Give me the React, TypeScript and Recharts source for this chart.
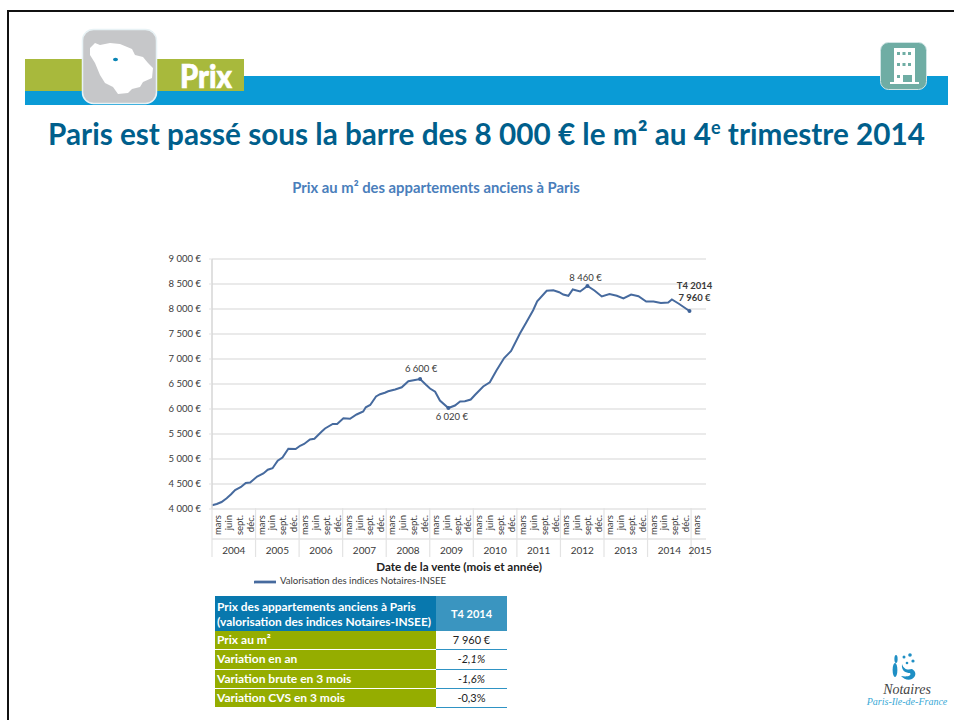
import React from 'react';
import { Label, Legend, Line, LineChart, CartesianGrid, XAxis, YAxis } from 'recharts';

const years = ['2004', '2005', '2006', '2007', '2008', '2009', '2010', '2011', '2012', '2013', '2014', '2015'];
const monthNames = ['mars', 'juin', 'sept.', 'déc.'];
const priceTicks = [4000, 4500, 5000, 5500, 6000, 6500, 7000, 7500, 8000, 8500, 9000];

const saleMonths = [
  0, 1.3, 2.6, 4, 5.2, 6.3, 7.9, 9.2, 10.4, 12.3, 14, 15.2, 16.5, 17.9, 19.2, 20.8, 22.8, 24, 25.1, 26.7, 27.9,
  29.9, 30.8, 32.9, 34.1, 35.8, 37.6, 39.4, 41.2, 41.9, 43.1, 44.7, 45.8, 47.1, 48, 49.9, 51.7, 53.5, 56.7,
  58.3, 59.4, 60.8, 62.1, 64.4, 66.2, 67.6, 68.9, 70.5, 71.7, 73.9, 75.7, 77.5, 79.6, 81.5, 83.9, 85.7, 87.5,
  88.6, 91.2, 93, 94.6, 95.7, 97.1, 98.3, 100.3, 102.3, 104.2, 106.2, 108.3, 110.3, 112.1, 114.2, 116.2,
  118.3, 120.3, 122.3, 124.3, 125.3, 127.1, 130.1,
];
const prices = [
  4075, 4100, 4140, 4215, 4295, 4380, 4440, 4520, 4530, 4650, 4710, 4785, 4815, 4965, 5030, 5205, 5200, 5265, 5300, 5390, 5405,
  5550, 5610, 5700, 5700, 5815, 5805, 5890, 5950, 6035, 6080, 6250, 6295, 6325, 6355, 6390, 6435, 6555, 6600,
  6485, 6410, 6345, 6170, 6020, 6070, 6150, 6155, 6190, 6285, 6450, 6535, 6770, 7020, 7160, 7510, 7740, 7975,
  8155, 8365, 8375, 8335, 8290, 8265, 8390, 8350, 8460, 8370, 8250, 8300, 8265, 8210, 8290, 8255,
  8150, 8150, 8120, 8130, 8190, 8110, 7960,
];

const tableHeader = ['Prix des appartements anciens à Paris', '(valorisation des indices Notaires-INSEE)'];
const tablePeriod = 'T4 2014';
const tableLabels = ['Prix au m²', 'Variation en an', 'Variation brute en 3 mois', 'Variation CVS en 3 mois'];
const tableValues = ['7 960 €', '-2,1%', '-1,6%', '-0,3%'];
const tableItalic = [false, true, true, false];

const FONT = 'Lato, "Open Sans", sans-serif';
const TEXT = '#3a3a3a';
const GRID = '#e3e3e3';

const quarters = years.flatMap((y) => (y === '2015' ? ['mars'] : monthNames).map((m) => ({ id: `${m} ${y}` })));
const curve = saleMonths.map((month, i) => ({ month, price: prices[i] }));

const formatEuro = (v: number) => `${String(v).replace(/\B(?=(\d{3})+$)/g, '\u00a0')}\u00a0€`;

const QuarterTick = ({ x, payload }: any) => {
  const [month, year] = String(payload.value).split(' ');
  const top = 508 - 250;
  return (
    <g>
      <text
        x={x}
        y={top + 7}
        transform={`rotate(-90 ${x} ${top + 7})`}
        textAnchor="end"
        dominantBaseline="central"
        fontSize={9.5}
        fill={TEXT}
      >
        {month}
      </text>
      {month === 'mars' && <line x1={x - 5.45} x2={x - 5.45} y1={top} y2={top + 49} stroke={GRID} strokeWidth={1.2} />}
      {month === 'juin' && (
        <text x={x + 5.45} y={top + 46} textAnchor="middle" fontSize={10} fill={TEXT}>
          {year}
        </text>
      )}
      {year === '2015' && (
        <text x={x + 3.5} y={top + 46} textAnchor="middle" fontSize={10} fill={TEXT}>
          {year}
        </text>
      )}
    </g>
  );
};

const renderDot = ({ cx, cy, index }: any) => {
  if (![38, 43, 65, 79].includes(index)) return <g key={index} />;
  return <circle key={index} cx={cx} cy={cy} r={2} fill="#3f6398" />;
};

const renderNote = ({ x, y, index, value }: any) => {
  const shared = { fontSize: 9.5, fill: TEXT, textAnchor: 'middle' as const };
  if (index === 38) {
    return (
      <text key={index} x={x + 1} y={y - 7} {...shared}>
        {formatEuro(value)}
      </text>
    );
  }
  if (index === 65) {
    return (
      <text key={index} x={x - 2} y={y - 5} {...shared}>
        {formatEuro(value)}
      </text>
    );
  }
  if (index === 43) {
    return (
      <text key={index} x={x + 3.5} y={y + 12} {...shared}>
        {formatEuro(value)}
      </text>
    );
  }
  if (index === 79) {
    return (
      <text key={index} x={x + 5} y={y - 10.5} {...shared} fontWeight={700}>
        {formatEuro(value)}
        <tspan x={x + 5} dy={-12}>
          T4 2014
        </tspan>
      </text>
    );
  }
  return <g key={index} />;
};

const Header = () => (
  <>
    <div style={{ position: 'absolute', left: 7, top: 10, width: 947, height: 2, background: '#111' }} />
    <div style={{ position: 'absolute', left: 7, top: 10, width: 2, height: 710, background: '#111' }} />
    <div style={{ position: 'absolute', left: 25, top: 76, width: 923, height: 29, background: '#0a9bd6' }} />
    <div style={{ position: 'absolute', left: 25, top: 59, width: 219, height: 32, background: '#a8b93c' }} />
    <div
      style={{
        position: 'absolute',
        left: 180,
        top: 57,
        color: '#fff',
        fontWeight: 900,
        fontSize: 33,
        lineHeight: '36px',
        WebkitTextStroke: '0.7px #fff',
        transform: 'scaleX(0.88)',
        transformOrigin: 'left center',
      }}
    >
      Prix
    </div>
    <svg style={{ position: 'absolute', left: 0, top: 0 }} width={954} height={120}>
      <rect x={82.5} y={29.5} width={74} height={74} rx={11} fill="#c6c7c9" stroke="#e8f2f5" strokeWidth={1.5} />
      <polygon
        points="95,43 100,45 110,43 120,44 132,49 135,55 143,57 148,63 153,68 152,78 143,82 140,87 132,89 128,93 118,94 113,87 105,83 100,75 95,63 90,55 90,48"
        fill="#fff"
      />
      <ellipse cx={115.5} cy={59.5} rx={2.5} ry={1.8} fill="#0a85b5" />
      <rect x={880.5} y={42.5} width={46} height={47} rx={8} fill="#6fada4" stroke="#cfe4e4" strokeWidth={1} />
      <rect x={894} y={48} width={21} height={36} fill="#fff" />
      <rect x={890} y={82} width={29} height={2} fill="#fff" />
      {[0, 1, 2].map((c) => (
        <g key={c} fill="#6fada4">
          <rect x={897 + c * 5.5} y={52} width={3} height={3} />
          <rect x={897 + c * 5.5} y={63} width={3} height={3} />
        </g>
      ))}
      <rect x={897} y={75} width={3} height={3} fill="#6fada4" />
      <rect x={903} y={75} width={9} height={7} fill="#6fada4" />
    </svg>
    <div
      style={{
        position: 'absolute',
        left: 0,
        width: 973,
        top: 117,
        textAlign: 'center',
        color: '#005f8c',
        fontWeight: 700,
        fontSize: 29.7,
        lineHeight: '34px',
        whiteSpace: 'nowrap',
      }}
    >
      Paris est passé sous la barre des 8 000 € le m² au 4<sup style={{ fontSize: 18, lineHeight: 0 }}>e</sup> trimestre 2014
    </div>
    <div
      style={{
        position: 'absolute',
        left: 236,
        width: 400,
        top: 179,
        textAlign: 'center',
        color: '#4a7ebb',
        fontWeight: 700,
        fontSize: 14.8,
        lineHeight: '16px',
        whiteSpace: 'nowrap',
      }}
    >
      Prix au m² des appartements anciens à Paris
    </div>
  </>
);

const SummaryTable = () => (
  <div style={{ position: 'absolute', left: 215, top: 596, width: 292 }}>
    <div style={{ display: 'flex', height: 35 }}>
      <div
        style={{
          width: 221,
          background: '#0878ae',
          color: '#fff',
          fontWeight: 700,
          fontSize: 11.9,
          lineHeight: '15px',
          padding: '3px 0 0 2px',
          boxSizing: 'border-box',
          whiteSpace: 'nowrap',
        }}
      >
        {tableHeader.map((line) => (
          <div key={line}>{line}</div>
        ))}
      </div>
      <div
        style={{
          width: 71,
          background: '#3a95c0',
          color: '#fff',
          fontWeight: 700,
          fontSize: 11,
          lineHeight: '35px',
          textAlign: 'center',
        }}
      >
        {tablePeriod}
      </div>
    </div>
    {tableLabels.map((label, i) => (
      <div key={label} style={{ display: 'flex', height: 19.3 }}>
        <div
          style={{
            width: 221,
            height: 18.3,
            background: '#95ad00',
            color: '#fff',
            fontWeight: 700,
            fontSize: 12,
            lineHeight: '18px',
            paddingLeft: 2,
            boxSizing: 'border-box',
          }}
        >
          {label}
        </div>
        <div
          style={{
            width: 71,
            height: 19.3,
            borderBottom: '1px solid #2f93c4',
            boxSizing: 'border-box',
            color: '#222',
            fontSize: 11,
            fontStyle: tableItalic[i] ? 'italic' : 'normal',
            lineHeight: '18px',
            textAlign: 'center',
          }}
        >
          {tableValues[i]}
        </div>
      </div>
    ))}
  </div>
);

const Logo = () => (
  <>
    <svg style={{ position: 'absolute', left: 890, top: 652 }} width={32} height={32}>
      <g fill="#1f8fc4">
        <ellipse cx={6} cy={7} rx={1.6} ry={4} />
        <ellipse cx={5} cy={18} rx={2.4} ry={7} />
        <circle cx={14} cy={5} r={1.5} />
        <circle cx={20} cy={3} r={1.8} />
        <circle cx={23} cy={9} r={1.6} />
        <circle cx={17} cy={11} r={1.3} />
        <path d="M12 12 C14 18 18 18 22 17 C26 19 27 24 22 27 C18 29 14 27 11 24 C17 25 22 24 20 21 C16 21 11 19 12 12 Z" />
      </g>
    </svg>
    <div
      style={{
        position: 'absolute',
        left: 854,
        width: 106,
        top: 683,
        textAlign: 'center',
        fontFamily: '"Liberation Serif", serif',
        fontStyle: 'italic',
        fontSize: 14,
        lineHeight: '13px',
        color: '#444',
      }}
    >
      Notaires
    </div>
    <div
      style={{
        position: 'absolute',
        left: 854,
        width: 106,
        top: 696,
        textAlign: 'center',
        fontFamily: '"Liberation Serif", serif',
        fontStyle: 'italic',
        fontSize: 10,
        lineHeight: '11px',
        color: '#39a9d6',
      }}
    >
      Paris-Ile-de-France
    </div>
  </>
);

export default function App() {
  return (
    <div
      style={{
        position: 'fixed',
        left: 0,
        top: 0,
        width: 954,
        height: 720,
        overflow: 'hidden',
        background: '#fff',
        fontFamily: FONT,
      }}
    >
      <Header />
      <div style={{ position: 'absolute', left: 160, top: 250 }}>
        <LineChart
          width={570}
          height={347}
          data={quarters}
          margin={{ top: 9, right: 24, bottom: 0, left: 0 }}
          style={{ fontFamily: FONT }}
        >
          <CartesianGrid xAxisId="quarter" yAxisId="price" vertical={false} stroke={GRID} strokeWidth={1.5} />
          <XAxis
            xAxisId="quarter"
            dataKey="id"
            scale="band"
            interval={0}
            padding={{ left: 0, right: 4 }}
            height={66}
            tickLine={false}
            tickSize={0}
            axisLine={{ stroke: GRID, strokeWidth: 1.5 }}
            tick={<QuarterTick />}
          >
            <Label
              value="Date de la vente (mois et année)"
              position="insideBottom"
              offset={34}
              style={{ fontSize: 11.7, fontWeight: 700, fill: '#222' }}
            />
          </XAxis>
          <XAxis xAxisId="month" dataKey="month" type="number" domain={[0, 134.6]} hide />
          <YAxis
            yAxisId="price"
            width={52}
            domain={[4000, 9000]}
            ticks={priceTicks}
            tickFormatter={formatEuro}
            tickSize={3}
            tickMargin={8}
            tickLine={{ stroke: GRID }}
            axisLine={{ stroke: '#d6d6d6', strokeWidth: 1.5 }}
            tick={{ fontSize: 9.5, fill: TEXT }}
          />
          <YAxis
            yAxisId="frame"
            orientation="right"
            width={0}
            domain={[4000, 9000]}
            tick={false}
            tickLine={false}
            axisLine={{ stroke: '#d6d6d6', strokeWidth: 1.5 }}
          />
          <Line
            xAxisId="month"
            yAxisId="price"
            data={curve}
            dataKey="price"
            name="Valorisation des indices Notaires-INSEE"
            type="linear"
            stroke="#466a9e"
            strokeWidth={2}
            dot={renderDot}
            activeDot={false}
            label={renderNote}
            isAnimationActive={false}
          />
          <Legend
            iconType="plainline"
            iconSize={22}
            wrapperStyle={{ left: 80, top: 321, width: 230, fontSize: 9.6, whiteSpace: 'nowrap' }}
            formatter={(value) => <span style={{ color: TEXT }}>{value}</span>}
          />
        </LineChart>
      </div>
      <SummaryTable />
      <Logo />
    </div>
  );
}
